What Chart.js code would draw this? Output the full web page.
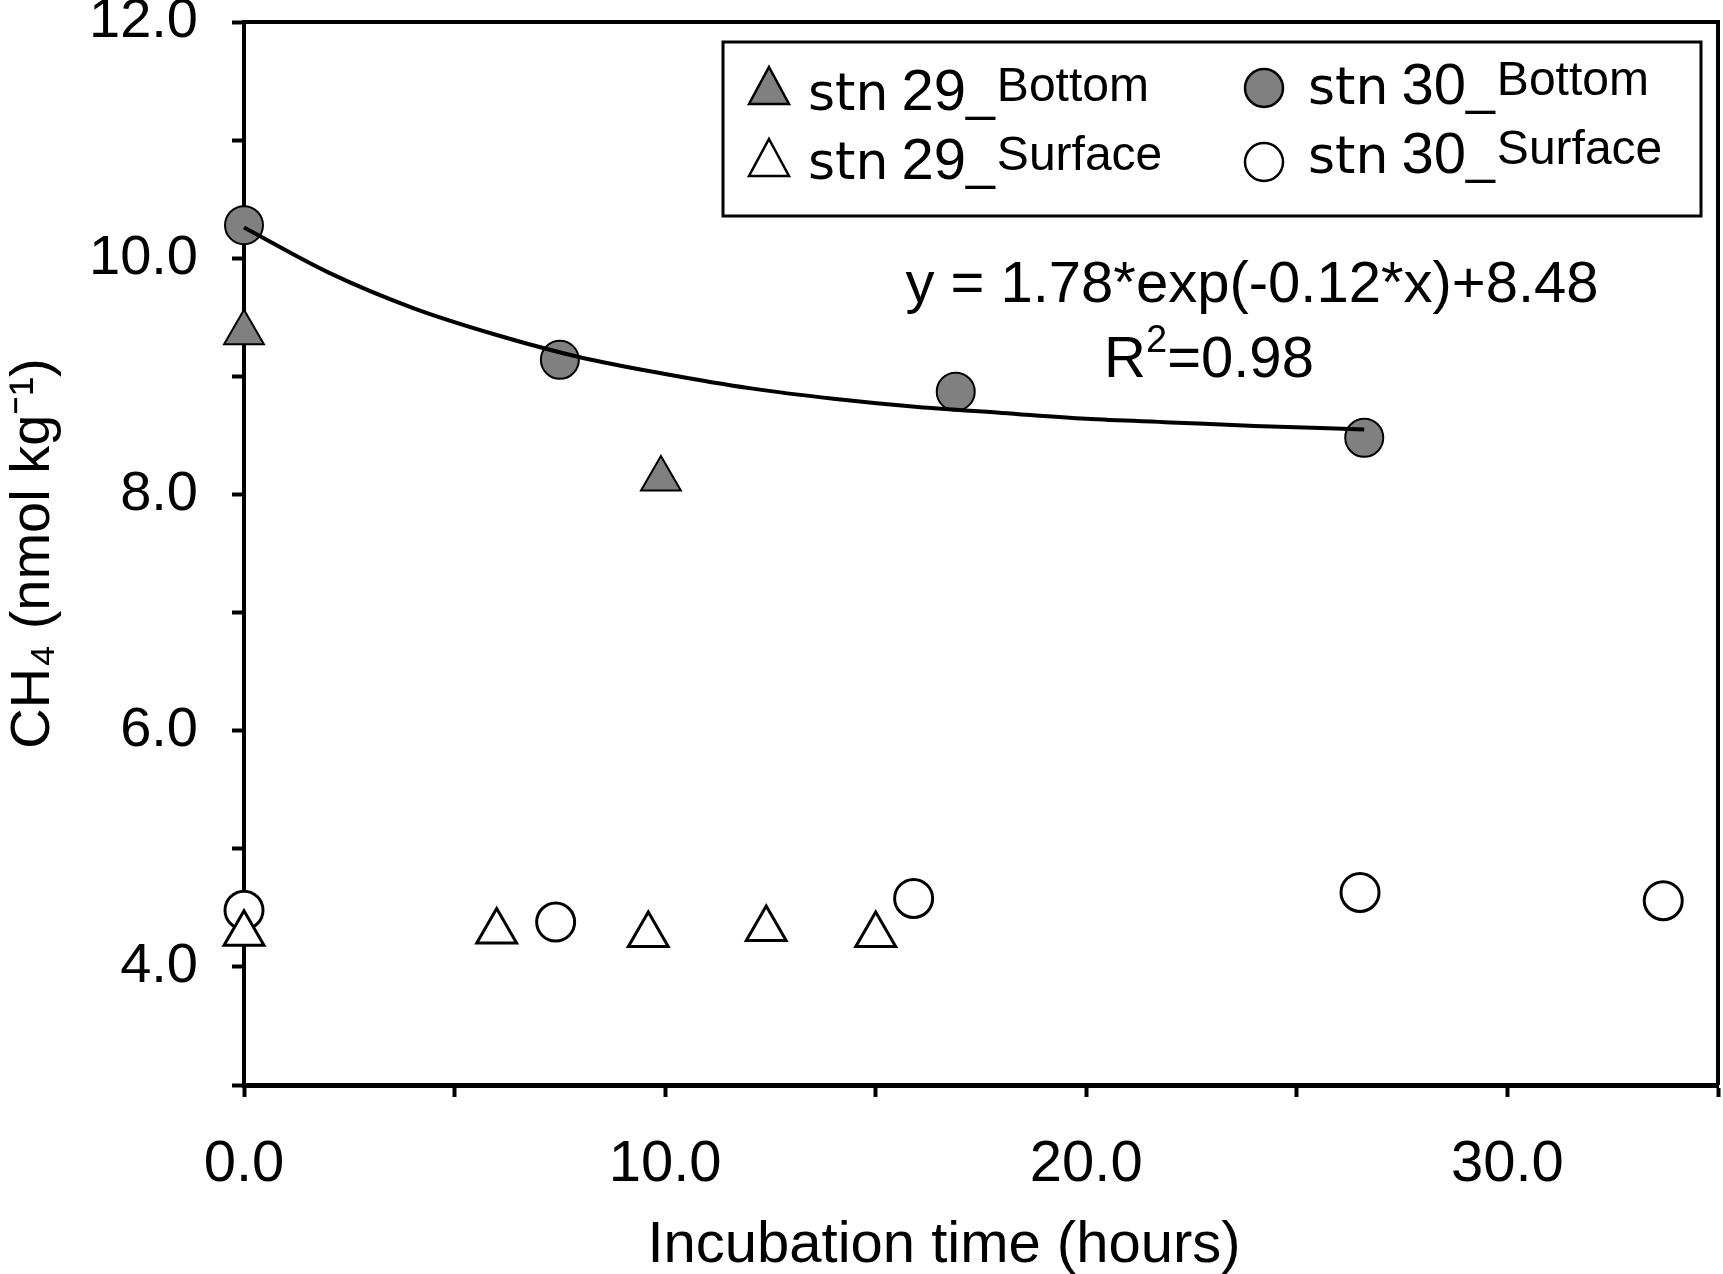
<!DOCTYPE html>
<html>
<head>
<meta charset="utf-8">
<script src="https://cdn.jsdelivr.net/npm/chart.js@4/dist/chart.umd.min.js"></script>
<style>
  html, body { margin: 0; padding: 0; background: #fff; overflow: hidden; }
  canvas { display: block; }
</style>
</head>
<body>
<canvas id="ch4Chart" width="1723" height="1274"></canvas>
<script>
// Data (x = incubation time in hours, y = CH4 nmol/kg)
const stn29BottomX = [0, 9.9];
const stn29BottomY = [9.37, 8.13];
const stn29SurfaceX = [0, 6.0, 9.6, 12.4, 15.0];
const stn29SurfaceY = [4.28, 4.30, 4.27, 4.32, 4.27];
const stn30BottomX = [0, 7.5, 16.9, 26.6];
const stn30BottomY = [10.28, 9.14, 8.87, 8.48];
const stn30SurfaceX = [0, 7.4, 15.9, 26.5, 33.7];
const stn30SurfaceY = [4.48, 4.38, 4.58, 4.63, 4.56];

// Fitted curve as it is traced on the figure
const fitX = [0, 2, 4, 6, 8, 10, 12, 14, 16, 18, 20, 22, 24, 26.6];
const fitY = [10.26, 9.88, 9.58, 9.35, 9.16, 9.02, 8.90, 8.81, 8.74, 8.69, 8.64, 8.61, 8.58, 8.55];

const seriesStations = ['29', '29', '30', '30'];
const seriesDepths = ['Bottom', 'Surface', 'Bottom', 'Surface'];
const xTickLabels = [0, 10, 20, 30];
const yTickLabels = [4, 6, 8, 10, 12];
const equationText = 'y = 1.78*exp(-0.12*x)+8.48';
const r2Text = '0.98';
const xTitle = 'Incubation time (hours)';

const GREY = '#808080';
const FONT = '"Liberation Sans", Arial, sans-serif';

function toPoints(xs, ys) {
    return xs.map((x, i) => ({ x: x, y: ys[i] }));
}

// Draws frame, legend box, x title and the fit equation
const extrasPlugin = {
    id: 'extras',
    afterDatasetsDraw(chart) {
        const ctx = chart.ctx;
        const area = chart.chartArea;
        ctx.save();

        // top and right frame lines
        ctx.strokeStyle = '#000';
        ctx.lineWidth = 4;
        ctx.beginPath();
        ctx.moveTo(area.left, area.top);
        ctx.lineTo(area.right, area.top);
        ctx.lineTo(area.right, area.bottom);
        ctx.stroke();

        // legend box
        ctx.lineWidth = 3;
        ctx.strokeRect(723, 42, 978, 174);

        const entries = [
            { mx: 769, my: 88, tx: 808, base: 110, style: 'triangle', fill: GREY },
            { mx: 769, my: 160, tx: 808, base: 179, style: 'triangle', fill: '#fff' },
            { mx: 1264, my: 88, tx: 1308, base: 104, style: 'circle', fill: GREY },
            { mx: 1264, my: 162, tx: 1308, base: 173, style: 'circle', fill: '#fff' }
        ];
        entries.forEach((e, i) => {
            ctx.fillStyle = e.fill;
            ctx.strokeStyle = '#000';
            ctx.lineWidth = 2.5;
            ctx.beginPath();
            if (e.style === 'circle') {
                ctx.arc(e.mx, e.my, 19, 0, Math.PI * 2);
            } else {
                ctx.moveTo(e.mx, e.my - 21);
                ctx.lineTo(e.mx + 20, e.my + 16);
                ctx.lineTo(e.mx - 20, e.my + 16);
                ctx.closePath();
            }
            ctx.fill();
            ctx.stroke();

            ctx.fillStyle = '#000';
            ctx.textBaseline = 'alphabetic';
            ctx.textAlign = 'left';
            let x = e.tx;
            ctx.font = '52px "DejaVu Sans"';
            ctx.fillText('stn', x, e.base);
            x += ctx.measureText('stn').width + 13;
            ctx.font = '58px ' + FONT;
            ctx.fillText(seriesStations[i], x, e.base);
            x += ctx.measureText(seriesStations[i]).width;
            ctx.font = '52px ' + FONT;
            ctx.fillText('_', x, e.base);
            x += ctx.measureText('_').width + 2;
            ctx.font = '48px ' + FONT;
            ctx.fillText(seriesDepths[i], x, e.base - 9);
        });

        // equation
        ctx.font = '58px ' + FONT;
        ctx.textAlign = 'center';
        ctx.fillText(equationText, 1252, 302);

        // R^2 line
        ctx.textAlign = 'left';
        const wR = ctx.measureText('R').width;
        ctx.font = '38px ' + FONT;
        const w2 = ctx.measureText('2').width;
        ctx.font = '58px ' + FONT;
        const rest = '=' + r2Text;
        const wRest = ctx.measureText(rest).width;
        let rx = 1209 - (wR + w2 + wRest) / 2;
        ctx.fillText('R', rx, 377);
        rx += wR;
        ctx.font = '38px ' + FONT;
        ctx.fillText('2', rx, 352);
        rx += w2;
        ctx.font = '58px ' + FONT;
        ctx.fillText(rest, rx, 377);

        // x axis title
        ctx.font = '58px ' + FONT;
        ctx.textAlign = 'center';
        ctx.fillText(xTitle, 944, 1262);

        ctx.restore();
    }
};

document.addEventListener('DOMContentLoaded', function() {
    const ctx = document.getElementById('ch4Chart').getContext('2d');

    new Chart(ctx, {
        type: 'scatter',
        data: {
            datasets: [
                {
                    label: 'fit',
                    type: 'line',
                    data: toPoints(fitX, fitY),
                    borderColor: '#000',
                    borderWidth: 4,
                    pointRadius: 0,
                    fill: false,
                    cubicInterpolationMode: 'monotone',
                    order: 0
                },
                {
                    label: 'stn29_Bottom',
                    data: toPoints(stn29BottomX, stn29BottomY),
                    pointStyle: 'triangle',
                    pointRadius: 23,
                    backgroundColor: GREY,
                    borderColor: '#000',
                    borderWidth: 2,
                    order: 1
                },
                {
                    label: 'stn29_Surface',
                    data: toPoints(stn29SurfaceX, stn29SurfaceY),
                    pointStyle: 'triangle',
                    pointRadius: 23,
                    backgroundColor: '#fff',
                    borderColor: '#000',
                    borderWidth: 3,
                    order: 1
                },
                {
                    label: 'stn30_Bottom',
                    data: toPoints(stn30BottomX, stn30BottomY),
                    pointStyle: 'circle',
                    pointRadius: 19,
                    backgroundColor: GREY,
                    borderColor: '#000',
                    borderWidth: 2,
                    order: 1
                },
                {
                    label: 'stn30_Surface',
                    data: toPoints(stn30SurfaceX, stn30SurfaceY),
                    pointStyle: 'circle',
                    pointRadius: 19,
                    backgroundColor: '#fff',
                    borderColor: '#000',
                    borderWidth: 3,
                    order: 1
                }
            ]
        },
        options: {
            responsive: false,
            devicePixelRatio: 1,
            animation: false,
            clip: false,
            layout: { autoPadding: false, padding: { top: 22, right: 5, left: 0, bottom: 0 } },
            plugins: {
                legend: { display: false },
                tooltip: { enabled: false }
            },
            scales: {
                x: {
                    type: 'linear',
                    min: 0,
                    max: 35,
                    border: { color: '#000', width: 5 },
                    grid: { drawOnChartArea: false, color: '#000', tickLength: 12, tickWidth: 4 },
                    ticks: {
                        stepSize: 5,
                        color: '#000',
                        font: { family: FONT, size: 58 },
                        padding: 33,
                        maxRotation: 0,
                        autoSkip: false,
                        callback: v => xTickLabels.includes(v) ? v.toFixed(1) : ''
                    },
                    title: { display: false },
                    afterFit: s => { s.height = 189; s.paddingLeft = 0; s.paddingRight = 0; }
                },
                y: {
                    type: 'linear',
                    min: 3,
                    max: 12,
                    border: { color: '#000', width: 4 },
                    grid: { drawOnChartArea: false, color: '#000', tickLength: 12, tickWidth: 4 },
                    ticks: {
                        stepSize: 1,
                        color: '#000',
                        font: { family: FONT, size: 56 },
                        padding: 34,
                        autoSkip: false,
                        callback: v => yTickLabels.includes(v) ? v.toFixed(1) : ''
                    },
                    title: {
                        display: true,
                        text: 'CH\u2084 (nmol kg\u207B\u00B9)',
                        color: '#000',
                        font: { family: FONT, size: 56 },
                        padding: { top: 0, bottom: 18 }
                    },
                    afterFit: s => { s.width = 244; s.paddingTop = 0; s.paddingBottom = 0; }
                }
            }
        },
        plugins: [extrasPlugin]
    });
});
</script>
</body>
</html>
